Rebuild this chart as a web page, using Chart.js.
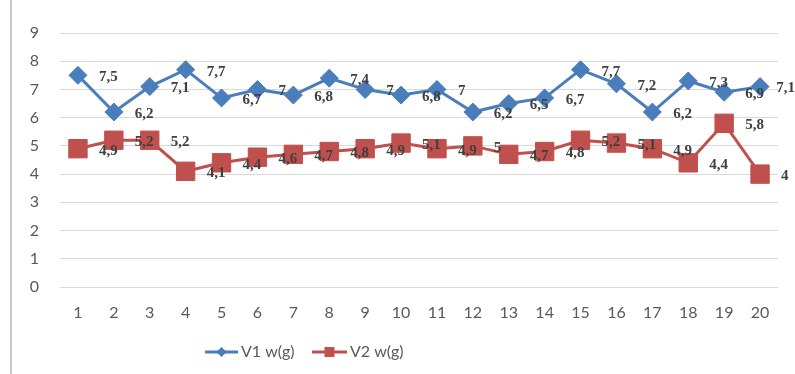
<!DOCTYPE html>
<html>
<head>
<meta charset="utf-8">
<script src="https://cdn.jsdelivr.net/npm/chart.js@4.4.1/dist/chart.umd.min.js"></script>
<style>
  html, body { margin: 0; padding: 0; background: #ffffff; }
  #wrap { position: relative; width: 795px; height: 374px; }
  #edge { position: absolute; left: 10px; top: 0; width: 2px; height: 374px; background: #c8c8c8; }
  canvas { position: absolute; left: 0; top: 0; }
</style>
</head>
<body>
<div id="wrap">
  <canvas id="c" width="795" height="374"></canvas>
  <div id="edge"></div>
</div>
<script>
const categories = ['1','2','3','4','5','6','7','8','9','10','11','12','13','14','15','16','17','18','19','20'];
const v1Values = [7.5, 6.2, 7.1, 7.7, 6.7, 7.0, 6.8, 7.4, 7.0, 6.8, 7.0, 6.2, 6.5, 6.7, 7.7, 7.2, 6.2, 7.3, 6.9, 7.1];
const v2Values = [4.9, 5.2, 5.2, 4.1, 4.4, 4.6, 4.7, 4.8, 4.9, 5.1, 4.9, 5.0, 4.7, 4.8, 5.2, 5.1, 4.9, 4.4, 5.8, 4.0];
const seriesNames = ['V1 w(g)', 'V2 w(g)'];
const yTicks = [0,1,2,3,4,5,6,7,8,9];

const BLUE = '#4a7ebb';
const RED = '#c0504d';

function fmt(v) { return String(v).replace('.', ','); }

const dataLabels = {
  id: 'dataLabels',
  afterDatasetsDraw(chart) {
    const ctx = chart.ctx;
    ctx.save();
    ctx.font = 'bold 15px "Liberation Serif"';
    ctx.fillStyle = '#404040';
    ctx.textAlign = 'left';
    ctx.textBaseline = 'middle';
    chart.data.datasets.forEach((ds, di) => {
      const meta = chart.getDatasetMeta(di);
      meta.data.forEach((pt, i) => {
        const txt = fmt(ds.data[i]);
        const w = ctx.measureText(txt).width;
        const x = Math.min(pt.x + 21, chart.width - w);
        ctx.fillText(txt, x, pt.y + 2);
      });
    });
    ctx.restore();
  }
};

const customLegend = {
  id: 'customLegend',
  afterDraw(chart) {
    const ctx = chart.ctx;
    const y = 352;
    const items = [
      { x0: 205, x1: 238, tx: 241, color: BLUE, style: 'diamond' },
      { x0: 312, x1: 347, tx: 350, color: RED, style: 'square' }
    ];
    ctx.save();
    items.forEach((it, i) => {
      ctx.strokeStyle = it.color;
      ctx.lineWidth = 3;
      ctx.beginPath();
      ctx.moveTo(it.x0, y);
      ctx.lineTo(it.x1, y);
      ctx.stroke();
      const cx = (it.x0 + it.x1) / 2;
      ctx.fillStyle = it.color;
      if (it.style === 'diamond') {
        ctx.beginPath();
        ctx.moveTo(cx, y - 5); ctx.lineTo(cx + 5, y); ctx.lineTo(cx, y + 5); ctx.lineTo(cx - 5, y);
        ctx.closePath(); ctx.fill();
      } else {
        ctx.fillRect(cx - 5, y - 5, 10, 10);
      }
      ctx.fillStyle = '#595959';
      ctx.font = '16px Lato';
      ctx.textAlign = 'left';
      ctx.textBaseline = 'middle';
      ctx.fillText(chart.data.datasets[i].label, it.tx, y);
    });
    ctx.restore();
  }
};

new Chart(document.getElementById('c'), {
  type: 'line',
  data: {
    labels: categories,
    datasets: [
      {
        label: seriesNames[0], data: v1Values,
        borderColor: BLUE, backgroundColor: BLUE, borderWidth: 3,
        pointStyle: 'rectRot', pointRadius: 9, pointHoverRadius: 9,
        pointBackgroundColor: BLUE, pointBorderColor: BLUE, pointBorderWidth: 1,
        tension: 0
      },
      {
        label: seriesNames[1], data: v2Values,
        borderColor: RED, backgroundColor: RED, borderWidth: 3,
        pointStyle: 'rect', pointRadius: 13, pointHoverRadius: 13,
        pointBackgroundColor: RED, pointBorderColor: RED, pointBorderWidth: 1,
        tension: 0
      }
    ]
  },
  options: {
    responsive: false,
    devicePixelRatio: 1,
    animation: false,
    layout: { padding: { top: 33, right: 17, bottom: 0, left: 0 } },
    plugins: { legend: { display: false }, tooltip: { enabled: false } },
    scales: {
      x: {
        offset: true,
        grid: { display: false, drawTicks: false },
        border: { display: false },
        ticks: { color: '#595959', font: { family: 'Lato', size: 16 }, padding: 16, maxRotation: 0, autoSkip: false },
        afterFit: s => { s.height = 87; }
      },
      y: {
        min: 0, max: 9,
        afterBuildTicks: s => { s.ticks = yTicks.map(v => ({ value: v })); },
        grid: { color: '#d9d9d9', lineWidth: 1, drawTicks: false },
        border: { display: false },
        ticks: { color: '#595959', font: { family: 'Lato', size: 16 }, padding: 21 },
        afterFit: s => { s.width = 60; }
      }
    }
  },
  plugins: [dataLabels, customLegend]
});
</script>
</body>
</html>
